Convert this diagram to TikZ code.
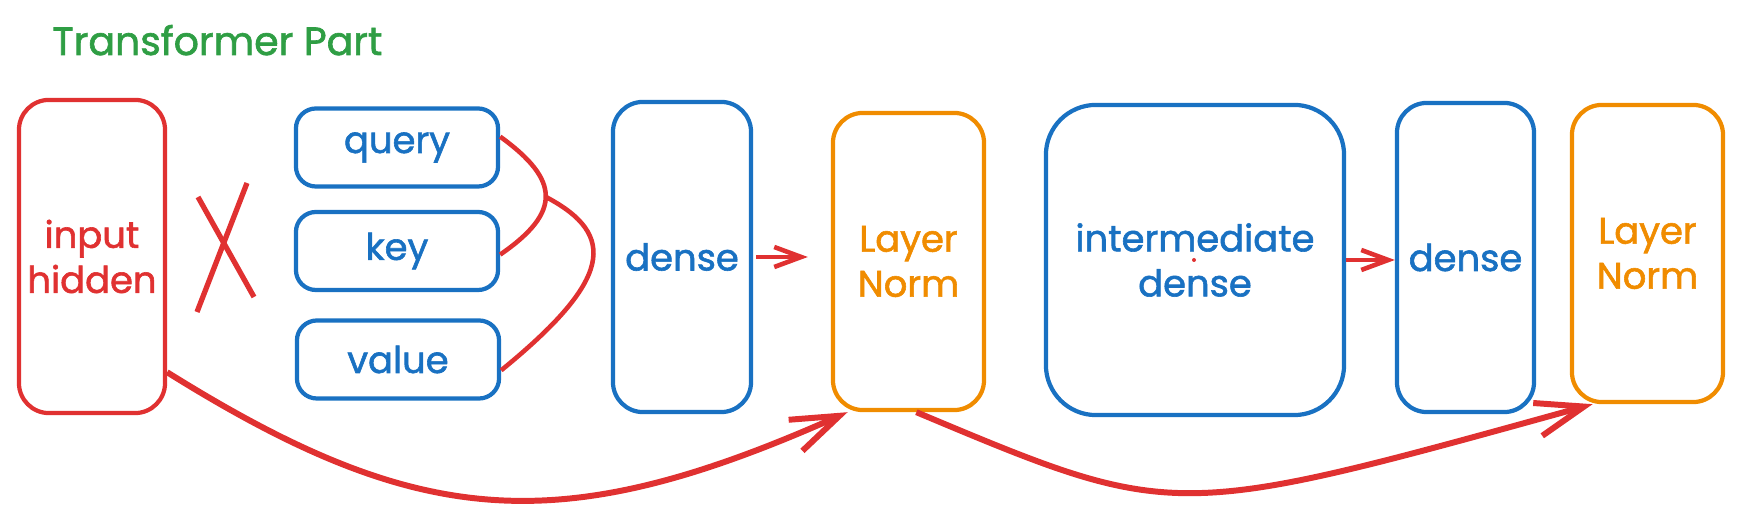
\documentclass[tikz,border=0pt]{standalone}
\usepackage{fontspec}
\setmainfont{Poppins}[FakeBold=1.6]
\usetikzlibrary{arrows.meta}
\definecolor{skred}{HTML}{E03131}
\definecolor{skblue}{HTML}{1971C2}
\definecolor{skorange}{HTML}{F08C00}
\definecolor{skgreen}{HTML}{2F9E44}
\begin{document}
\begin{tikzpicture}[x={(0.01cm,0cm)},y={(0cm,-0.01cm)},
  box/.style={draw, line width=1.2pt, rounded corners=0.3cm, align=center, inner sep=0pt, font=\fontsize{10.5}{12.8}\selectfont},
  small/.style={box, rounded corners=0.2cm, minimum width=2.02cm, minimum height=0.78cm},
  link/.style={skred, line width=1.3pt, -{Straight Barb[length=0.27cm,width=0.2cm]}},
  skip/.style={skred, line width=1.7pt, -{Straight Barb[length=0.48cm,width=0.34cm]}},
  wire/.style={skred, line width=1.3pt}]
\useasboundingbox (0,0) rectangle (1741,528);
\node[anchor=base west, text=skgreen, font=\fontsize{11.2}{13}\selectfont] (title) at (40,55) {Transformer Part};
\node[box, skred, minimum width=1.46cm, minimum height=3.13cm] (inp) at (92,256.5) {input\\hidden};
\draw[wire, line width=1.5pt] (198,197) -- (254,297);
\draw[wire, line width=1.5pt] (247,183) -- (197,312);
\node[small, skblue] (query) at (397,147.5) {query};
\node[small, skblue] (key) at (397,251) {key};
\node[small, skblue] (value) at (398,359.5) {value};
\node[box, skblue, minimum width=1.38cm, minimum height=3.10cm] (dense1) at (682,257) {dense};
\node[box, skorange, minimum width=1.51cm, minimum height=2.97cm] (ln1) at (908.5,261.5) {Layer\\Norm};
\node[box, skblue, rounded corners=0.5cm, minimum width=2.98cm, minimum height=3.10cm] (inter) at (1195,260) {intermediate\\dense};
\node[box, skblue, minimum width=1.37cm, minimum height=3.09cm] (dense2) at (1465.5,257.5) {dense};
\node[box, skorange, minimum width=1.51cm, minimum height=2.97cm] (ln2) at (1647.5,253.5) {Layer\\Norm};
\fill[skred] (1194,260) circle (0.02cm);
% q, k, v joined
\coordinate (qk) at (546,197);
\draw[wire] (query.6) .. controls (560,180) and (562,212) .. (key.-2);
\draw[wire] (qk) .. controls (618,235) and (612,280) .. (value.-6);
\draw[link, shorten <=0.03cm, shorten >=0.23cm] (dense1.east) -- (dense1.east -| ln1.west);
\draw[link] (inter.east) -- (inter.east -| dense2.west);
% residual paths
\draw[skip] (inp.-57) .. controls (420,530) and (560,540) .. (ln1.-112);
\draw[skip] (ln1.-87) .. controls (1176,521) and (1171,521) .. (ln2.-110);
\end{tikzpicture}
\end{document}
